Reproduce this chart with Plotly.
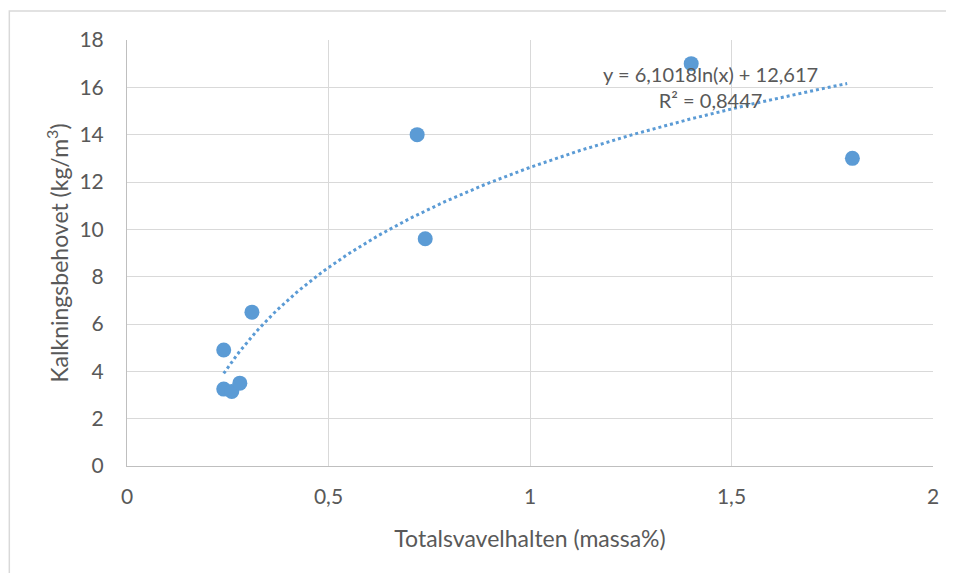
import numpy as np
import plotly.graph_objects as go

# Data
svavel = [0.24, 0.24, 0.26, 0.28, 0.31, 0.72, 0.74, 1.40, 1.80]
kalkning = [4.9, 3.25, 3.15, 3.5, 6.5, 14.0, 9.6, 17.0, 13.0]

# Logarithmic trendline coefficients as shown on the chart
trend_a = 6.1018
trend_b = 12.617
trend_r2 = 0.8447
trend_range = [0.24, 1.787]

x_ticks = [0, 0.5, 1, 1.5, 2]
y_ticks = [0, 2, 4, 6, 8, 10, 12, 14, 16, 18]

tx = np.linspace(trend_range[0], trend_range[1], 200)
ty = trend_a * np.log(tx) + trend_b

blue = "#5B9BD5"
gray_text = "#595959"
font_family = "Lato, 'Open Sans', sans-serif"

fig = go.Figure()
fig.add_trace(go.Scatter(x=tx, y=ty, mode="lines",
                         line=dict(color=blue, width=3, dash="dot"),
                         hoverinfo="skip", showlegend=False))
fig.add_trace(go.Scatter(x=svavel, y=kalkning, mode="markers",
                         marker=dict(color=blue, size=15),
                         showlegend=False))

fig.update_layout(
    width=954, height=573,
    margin=dict(l=119, r=29, t=32, b=115, autoexpand=False),
    paper_bgcolor="white", plot_bgcolor="white",
    separators=", ",
    font=dict(family=font_family, color=gray_text, size=21),
    xaxis=dict(range=[0, 2], tickvals=x_ticks, showgrid=True,
               gridcolor="#D9D9D9", gridwidth=1, zeroline=False,
               showline=True, linecolor="#BFBFBF", linewidth=1,
               ticks="", ticklen=0, ticklabelstandoff=12, automargin=False,
               tickfont=dict(size=21, color=gray_text),
               title=dict(text="Totalsvavelhalten (massa%)", standoff=23,
                          font=dict(size=23, color=gray_text))),
    yaxis=dict(range=[0, 18], tickvals=y_ticks, showgrid=True,
               gridcolor="#D9D9D9", gridwidth=1, zeroline=False,
               showline=True, linecolor="#BFBFBF", linewidth=1,
               ticks="", ticklen=0, ticklabelstandoff=18, automargin=False,
               tickfont=dict(size=21, color=gray_text),
               title=dict(text="Kalkningsbehovet (kg/m<sup>3</sup>)", standoff=4,
                          font=dict(size=23, color=gray_text))),
    shapes=[
        dict(type="rect", xref="paper", yref="paper",
             x0=-0.146, x1=1.06, y0=-0.3, y1=1.068,
             line=dict(color="#D9D9D9", width=1.5), layer="below"),
    ],
    annotations=[
        dict(x=1.447, y=16.0, xref="x", yref="y",
             text=f"y = {str(trend_a).replace('.', ',')}ln(x) + {str(trend_b).replace('.', ',')}<br>R² = {str(trend_r2).replace('.', ',')}",
             showarrow=False, align="center",
             font=dict(size=20, color=gray_text), xanchor="center", yanchor="middle"),
    ],
)

fig.write_html("out.html")
